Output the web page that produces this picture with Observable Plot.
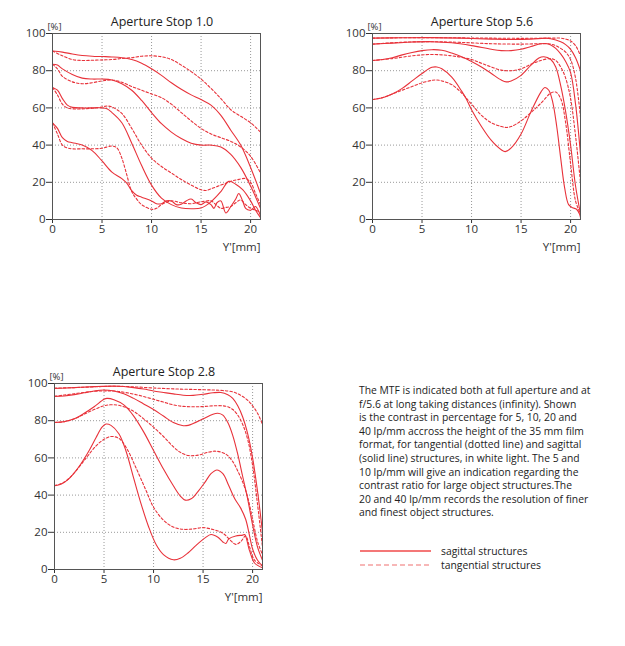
<!DOCTYPE html>
<html>
<head>
<meta charset="utf-8">
<script src="https://cdn.jsdelivr.net/npm/d3@7"></script>
<script src="https://cdn.jsdelivr.net/npm/@observablehq/plot@0.6"></script>
<style>
  html, body { margin: 0; padding: 0; background: #fff; }
  #page { position: relative; width: 625px; height: 646px; background: #fff; font-family: "Open Sans", sans-serif; color: #222; }
  .panel { position: absolute; }
  #desc { position: absolute; left: 359px; top: 384px; font-size: 10.35px; line-height: 13.6px; white-space: nowrap; color: #222; }
  #legend { position: absolute; left: 355px; top: 540px; }
</style>
</head>
<body>
<div id="page">
  <div class="panel" id="p1" style="left:0px;top:0px"></div>
  <div class="panel" id="p2" style="left:320px;top:0px"></div>
  <div class="panel" id="p3" style="left:2px;top:350px"></div>
  <div id="desc">The MTF is indicated both at full aperture and at<br>f/5.6 at long taking distances (infinity). Shown<br>is the contrast in percentage for 5, 10, 20 and<br>40 lp/mm accross the height of the 35 mm film<br>format, for tangential (dotted line) and sagittal<br>(solid line) structures, in white light. The 5 and<br>10 lp/mm will give an indication regarding the<br>contrast ratio for large object structures.The<br>20 and 40 lp/mm records the resolution of finer<br>and finest object structures.</div>
  <svg id="legend" width="250" height="36" style="font-family:'Open Sans',sans-serif;font-size:10.35px;">
    <line x1="5" x2="76" y1="11" y2="11" stroke="#f04a4a" stroke-width="1.6"></line>
    <line x1="5" x2="76" y1="25" y2="25" stroke="#f5a0a0" stroke-width="1.6" stroke-dasharray="5,3"></line>
    <text x="86" y="11" dominant-baseline="central" fill="#222">sagittal structures</text>
    <text x="86" y="25" dominant-baseline="central" fill="#222">tangential structures</text>
  </svg>
</div>
<script>
// ---- Tick values ----
const xTicks = [0, 5, 10, 15, 20];
const yTicks = [0, 20, 40, 60, 80, 100];
const xGrid = [5, 10, 15, 20];
const yGrid = [20, 40, 60, 80];

// ---- Aperture Stop 1.0 ----
const s10_sag5 = [[0,90.6],[1,90],[2,89],[3,88.2],[4,87.8],[5,87.6],[6,87.4],[7,87],[8,86],[9,84],[10,81],[11,77.5],[12,73.5],[13,70],[14,67],[15,64.5],[16,61.5],[17,56],[18,48],[19,40],[20,28],[21,14]];
const s10_tan5 = [[0,90.6],[1,88],[2,86],[3,85.5],[4,85.6],[5,85.8],[6,86],[7,86.6],[8,87],[9,87.8],[10,88],[11,87.5],[12,86],[13,83],[14,79.5],[15,75.5],[16,70.5],[17,65],[18,59],[19,55.5],[20,52],[21,47]];
const s10_sag10 = [[0,83.5],[0.5,83],[1,81],[2,78],[3,76],[4,75.5],[5,75.5],[6,75],[7,73],[8,69.5],[9,64],[10,57.5],[11,51.5],[12,47],[13,43.5],[14,41],[15,40],[16,40],[17,39],[18,35],[19,28],[20,18],[21,6]];
const s10_tan10 = [[0,83.5],[0.5,81],[1,77],[2,74],[3,73],[4,73.5],[5,74.5],[6,75],[7,73.8],[8,71.5],[9,69.5],[10,67.5],[11,65.5],[12,62],[13,57.5],[14,53],[15,49],[16,46],[17,44],[18,42],[19,39],[20,34],[21,25]];
const s10_sag20 = [[0,71],[0.5,69.5],[1,65],[1.5,61.5],[2,60.3],[3,60],[4,60],[5,60],[5.5,59.5],[6,57.5],[7,52],[8,41],[9,29],[10,18.5],[11,11.5],[12,8],[13,6.2],[14,5.8],[15,6.2],[16,9.5],[17,15],[17.8,20.5],[18.5,19],[19.2,16],[20,10],[20.5,5],[21,1]];
const s10_tan20 = [[0,71],[0.5,67],[1,62],[1.5,60],[2,59.5],[3,59.5],[4,59.8],[5,60.5],[5.5,61],[6,60.5],[7,57],[8,49],[9,40],[10,33],[11,28.5],[12,25],[13,21.5],[14,18.5],[15,16],[15.5,15.6],[16,16.5],[17,18.5],[18,20.5],[18.6,21.3],[19.5,22],[20,20],[20.5,14],[21,8]];
const s10_sag40 = [[0,52],[0.5,49],[1,44],[1.5,42],[2,41.3],[3,40],[4,37],[5,31.5],[6,25.5],[7,22],[7.5,19.5],[8,15.5],[8.5,13],[9,12],[10,10],[10.5,8.5],[11,8.5],[11.5,10],[12,10],[12.5,8],[13,8.2],[13.5,10],[14,11],[14.5,9],[15,8],[15.5,9.5],[16,8],[16.3,6],[16.6,9],[17,10],[17.5,3.5],[18,7],[18.5,11],[18.8,14],[19.2,10],[19.5,6],[20,5],[20.5,7],[21,2]];
const s10_tan40 = [[0,52],[0.5,46],[1,40],[1.5,38.5],[2,38],[3,38],[4,38],[5,38.3],[6,39.5],[6.5,38.5],[7,33],[7.5,24],[8,15],[8.5,11],[9,8],[10,5.5],[10.5,6],[11,8],[12,10],[13,9],[14,8.5],[15,9.5],[16,10],[16.5,8],[17,6],[17.5,6.5],[18,7],[18.5,9],[19,10.5],[19.5,8],[20,6],[20.5,5],[21,4]];

// ---- Aperture Stop 5.6 ----
const s56_sag5 = [[0,97.5],[3,97.7],[6,97.8],[9,97.5],[12,97],[14,96.8],[16,97],[17.5,97.5],[18,97.2],[19,95.5],[19.5,94],[20,91.5],[20.5,87],[21,80]];
const s56_tan5 = [[0,97.5],[5,97.8],[10,97.6],[15,97.4],[18,97.5],[19,97.5],[19.5,97],[20,96],[20.5,93.5],[21,88]];
const s56_sag10 = [[0,94.3],[2,94.8],[4,95.4],[6,95.6],[8,95],[10,93.5],[12,91.5],[13,90.8],[14,90.8],[15,91.5],[16,93],[17,94.5],[17.5,94.6],[18,93.8],[18.5,92],[19,89],[19.5,85],[20,79],[20.5,62],[21,35]];
const s56_tan10 = [[0,94.3],[3,95.3],[6,95.6],[9,95.2],[12,94.5],[15,94.3],[17,94.5],[18,94.3],[18.5,93.5],[19,92],[19.5,90],[20,86],[20.5,76],[21,55]];
const s56_sag20 = [[0,85.5],[1,86],[2,87],[3,88.5],[4,89.8],[5,90.8],[6,91.3],[7,91],[8,89.5],[9,87.5],[10,85],[11,82],[12,78.5],[13,75],[13.5,74],[14,74.5],[15,77.5],[16,83],[16.8,86.8],[17.3,87.5],[18,86],[18.5,82],[19,72],[19.5,58],[20,40],[20.5,18],[21,3]];
const s56_tan20 = [[0,85.5],[2,86.5],[4,88],[6,88.7],[8,88],[10,86],[11,84],[12,82],[13,80.3],[14,80],[15,81],[16,83.5],[17,85.5],[18,86.5],[18.5,85.5],[19,82],[19.5,76],[20,65],[20.5,45],[21,20]];
const s56_sag40 = [[0,64.5],[1,65.5],[2,67.5],[3,70.5],[4,74.5],[5,78.5],[6,81.8],[6.5,82],[7,81],[8,76.5],[9,69],[9.5,64.5],[10,59],[11,50],[12,42.5],[13,37.5],[13.4,36.5],[14,38.5],[15,46],[16,58],[17,68.5],[17.4,71],[17.8,69.5],[18.2,63],[18.6,50],[19,33],[19.4,17],[19.8,8],[20.2,6.3],[20.6,5.5],[20.9,3],[21,1]];
const s56_tan40 = [[0,64.5],[1,65.5],[2,67.5],[3,69.5],[4,71.5],[5,73.5],[6,74.8],[6.5,75],[7,74.5],[8,72.5],[9,68],[10,62],[11,56],[12,52],[13,50],[13.5,49.5],[14,50],[15,53],[16,57.5],[17,62.5],[18,68],[18.5,68.5],[19,65],[19.5,52],[20,30],[20.5,10],[21,3]];

// ---- Aperture Stop 2.8 ----
const s28_sag5 = [[0,97.3],[2,97.8],[4,98.3],[6,98.6],[7,98.4],[8,97.8],[9,97],[10,96],[11,95.2],[12,94.4],[13,93.7],[14,93.6],[15,94.2],[16,95],[16.8,95.2],[17.5,94],[18,92],[18.5,88],[19,82],[19.5,73],[20,60],[20.5,42],[21,20]];
const s28_tan5 = [[0,97.5],[2,97.8],[4,98.2],[6,98.5],[8,98.2],[10,97.6],[12,97.1],[14,96.8],[16,96.5],[17,96.2],[18,95.5],[18.5,94.5],[19,93],[19.5,91],[20,88],[20.5,84],[21,78]];
const s28_sag10 = [[0,93.1],[1,93.3],[2,94],[3,95],[4,96],[5,96.5],[6,96],[7,94.5],[8,92],[9,89],[10,86],[11,82.5],[12,79],[13,77.3],[13.5,77.5],[14,78.5],[15,81],[16,83.5],[16.5,84],[17,83],[17.5,79],[18,72],[18.5,62],[19,50],[19.5,38],[20,24],[20.5,12],[21,5]];
const s28_tan10 = [[0,93.1],[1,93.8],[2,94.5],[3,95.2],[4,95.8],[5,96],[6,96],[7,95.3],[8,94.3],[9,93],[10,91.5],[11,90],[12,88.5],[13,87.7],[14,87.5],[15,87.6],[16,88],[17,88],[17.5,87.5],[18,86],[18.5,83],[19,78],[19.5,70],[20,56],[20.5,35],[21,12]];
const s28_sag20 = [[0,79],[1,79.5],[2,81],[3,84],[4,87.5],[5,91.5],[5.3,92],[6,91.3],[7,88.5],[8,82.5],[9,74],[10,64],[11,54],[12,45],[12.7,39.5],[13.2,37.3],[13.8,38],[14.5,42],[15.2,47],[15.8,51.5],[16.4,53.5],[17,51.5],[17.6,45],[18.2,38],[18.8,33],[19.3,27],[19.7,18],[20,11],[20.5,5],[21,2]];
const s28_tan20 = [[0,79],[1,79.5],[2,81],[3,83.5],[4,86],[5,88],[6,88.6],[7,87.5],[8,85],[9,81],[10,76.5],[11,71.5],[12,66],[12.7,63],[13.5,61.3],[14.5,61.5],[15.5,63],[16.3,63.6],[17.3,62],[18,58],[18.5,53],[19,47],[19.5,39],[20,27],[20.5,15],[21,8]];
const s28_sag40 = [[0,45],[0.7,46],[1.5,49],[2.5,55.5],[3.5,64],[4.2,71],[4.8,76.5],[5.2,78.2],[5.7,77.5],[6.5,73],[7.2,64],[8,49],[8.7,36],[9.5,23],[10.3,13],[11,8],[12,5.2],[12.7,6],[13.5,9],[14.3,13],[15.2,17],[15.8,18.8],[16.5,17.3],[17,14.8],[17.3,14],[17.6,16.5],[18.3,18],[19,18.5],[19.2,18.8],[19.7,10],[20.2,3.5],[21,1]];
const s28_tan40 = [[0,45],[1,47],[2,52],[3.2,60],[4.2,66.5],[5,70],[5.7,71.5],[6.5,70.5],[7.3,65],[8.2,55],[9.2,43],[10,33.5],[11,26.5],[12,22.8],[13,21.6],[14,21.8],[15,22.5],[16,21.5],[17,19.5],[17.7,16],[18.3,13.5],[18.8,15],[19.3,18],[19.7,12],[20.2,5],[21,2]];

const RED = "#e8323a";

function panel(title, sag, tan) {
  const lines = [];
  for (const s of sag) lines.push(Plot.line(s, {x: d => d[0], y: d => d[1], curve: "catmull-rom", stroke: RED, strokeWidth: 1.1}));
  for (const t of tan) lines.push(Plot.line(t, {x: d => d[0], y: d => d[1], curve: "catmull-rom", stroke: RED, strokeWidth: 1.1, strokeDasharray: "2.5,2"}));
  return Plot.plot({
    width: 300, height: 260,
    marginLeft: 52, marginRight: 40, marginTop: 33, marginBottom: 41,
    style: {fontFamily: "'Open Sans', sans-serif", fontSize: "11.5px", color: "#333", background: "white"},
    x: {domain: [0, 21], ticks: xTicks, tickSize: 4, tickPadding: 1, label: null},
    y: {domain: [0, 100], ticks: yTicks, tickSize: 6, tickPadding: 1, label: null},
    marks: [
      Plot.gridX(xGrid, {stroke: "#999", strokeOpacity: 1, strokeDasharray: "1,2"}),
      Plot.gridY(yGrid, {stroke: "#999", strokeOpacity: 1, strokeDasharray: "1,2"}),
      ...lines,
      Plot.frame({stroke: "#555"}),
      Plot.text([title], {frameAnchor: "top", dx: 5.5, dy: -16, fontSize: 12.5, fill: "#222"}),
      Plot.text(["[%]"], {frameAnchor: "top-left", textAnchor: "start", dx: -5, dy: -10, fontSize: 9.5, fill: "#333"}),
      Plot.text(["Y'[mm]"], {frameAnchor: "bottom-right", textAnchor: "end", dy: 31, fontSize: 11.5, fill: "#333"})
    ]
  });
}

document.getElementById("p1").append(panel("Aperture Stop 1.0",
  [s10_sag5, s10_sag10, s10_sag20, s10_sag40], [s10_tan5, s10_tan10, s10_tan20, s10_tan40]));
document.getElementById("p2").append(panel("Aperture Stop 5.6",
  [s56_sag5, s56_sag10, s56_sag20, s56_sag40], [s56_tan5, s56_tan10, s56_tan20, s56_tan40]));
document.getElementById("p3").append(panel("Aperture Stop 2.8",
  [s28_sag5, s28_sag10, s28_sag20, s28_sag40], [s28_tan5, s28_tan10, s28_tan20, s28_tan40]));
</script>
</body>
</html>
